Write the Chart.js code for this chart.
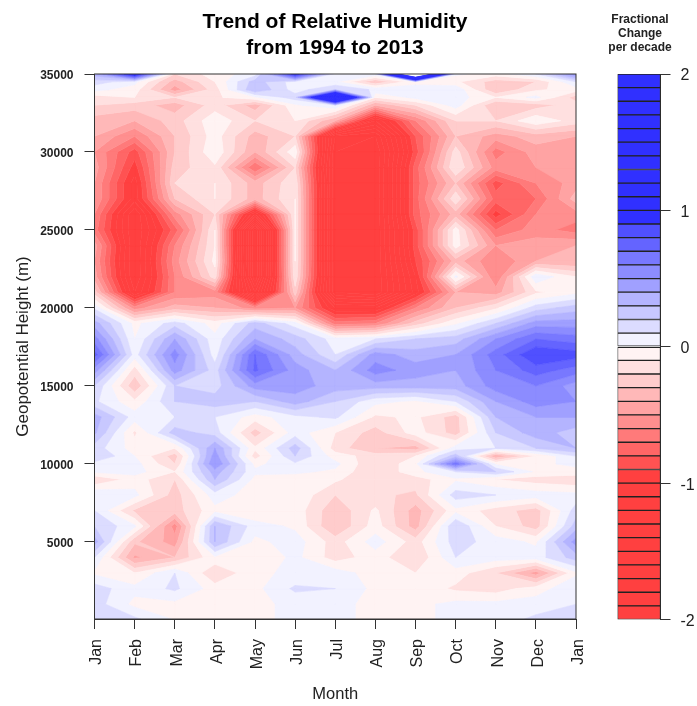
<!DOCTYPE html>
<html><head><meta charset="utf-8">
<style>html,body{margin:0;padding:0;background:#fff;width:697px;height:706px;overflow:hidden}
canvas{position:absolute;top:0}</style>
<script src="https://cdn.jsdelivr.net/npm/chart.js@4/dist/chart.umd.min.js"></script>
</head><body>
<canvas id="main" width="670" height="706" style="left:0"></canvas>
<canvas id="bar" width="114" height="706" style="left:583px"></canvas>
<script>
const months=['Jan','Feb','Mar','Apr','May','Jun','Jul','Aug','Sep','Oct','Nov','Dec','Jan'];
const monthPos=[0,1,2,3,4,5,6,7,8,9,10,11,12];
const yTickValues=[5000,10000,15000,20000,25000,30000,35000];
const barTickValues=[-2,-1,0,1,2];
const heights=[35000,34500,34000,33500,33000,32000,31000,30000,29000,28000,27000,26000,25000,24000,23000,22000,21000,20000,19000,18000,17000,16000,15000,14000,13000,12000,11000,10500,10000,9500,9000,8000,7000,6000,5000,4000,3000,2000,1000,50];
const h35000=[.35,1.1,-.2,-.05,.05,1.0,.05,.08,3.4,.02,-.05,.1,.5];
const h34500=[.15,.03,-.35,-.1,.25,.05,.02,-.3,-.02,-.08,-.25,-.2,.1];
const h34000=[.03,-.05,-.45,-.15,.3,.05,.2,.08,.03,.08,-.3,-.12,-.05];
const h33500=[-.15,-.1,-.2,-.12,-.02,.15,2.05,-.1,.03,.05,-.1,.03,-.25];
const h33000=[-.2,-.25,-.35,-.15,-.35,-.02,.1,-.4,-.2,.05,-.3,-.25,-.15];
const h32000=[-.35,-.4,-.25,-.03,-.2,-.1,-.4,-1.2,-.6,-.2,-.2,-.02,-.15];
const h31000=[-.4,-.6,-.3,-.05,-.35,-.2,-1.5,-1.6,-.8,-.3,-.45,-.35,-.4];
const h30000=[-.5,-.85,-.3,-.02,-.4,-.03,-1.6,-1.7,-.85,-.15,-.65,-.45,-.45];
const h29000=[-.45,-.95,-.25,-.12,-.7,-.2,-1.6,-1.7,-.75,-.1,-.55,-.5,-.5];
const h28000=[-.5,-1.05,-.2,-.1,-.35,-.12,-1.6,-1.7,-.75,-.3,-.85,-.6,-.45];
const h27000=[-.5,-1.05,-.3,-.1,-.35,-.1,-1.6,-1.7,-.75,-.12,-.75,-.7,-.35];
const h26000=[-.6,-1.3,-.55,-.2,-1.2,-.1,-1.6,-1.7,-.75,-.35,-.95,-.6,-.55];
const h25000=[-.65,-1.3,-.75,-.1,-1.9,-.1,-1.6,-1.7,-.85,-.05,-.7,-.55,-.65];
const h24000=[-.45,-1.3,-.6,-.1,-1.9,-.1,-1.6,-1.7,-.85,-.05,-.5,-.45,-.4];
const h23000=[-.5,-1.3,-.55,-.07,-1.9,-.1,-1.6,-1.7,-.9,-.35,-.6,-.4,-.4];
const h22000=[-.45,-1.3,-.6,-.15,-1.9,-.12,-1.6,-1.7,-1.0,.03,-.6,.08,-.1];
const h21000=[-.25,-1.2,-.6,-.55,-1.6,-.25,-1.6,-1.7,-1.05,-.4,-.45,-.12,-.03];
const h20000=[.08,-.55,-.35,-.4,-.55,-.5,-1.1,-1.1,-.6,-.3,-.12,.15,.25];
const h19000=[.35,-.03,.15,-.05,.25,.05,-.65,-.6,-.25,-.02,.2,.45,.45];
const h18000=[.55,0,.4,.03,.4,.25,.05,.1,.2,.25,.5,.7,.65];
const h17000=[.75,.05,.55,.05,.7,.35,.1,.45,.35,.4,.65,.9,.85];
const h16000=[.45,-.15,.45,.15,.72,.45,.3,.55,.45,.4,.6,.75,.65];
const h15000=[.2,-.28,.2,.15,.45,.45,.35,.35,.35,.35,.55,.6,.45];
const h14000=[.12,-.08,.2,.25,.2,.35,.2,.03,-.02,.1,.4,.55,.5];
const h13000=[.35,.05,.1,.1,-.05,.07,.12,-.12,-.08,-.25,.3,.4,.4];
const h12000=[.32,-.12,.25,.15,-.25,.05,-.1,-.25,-.05,-.25,.2,.35,.25];
const h11000=[.15,-.05,-.1,.4,-.08,.25,-.15,-.3,-.35,.05,.1,.2,.3];
const h10500=[.2,0,-.25,.45,-.15,.2,-.05,-.15,-.1,.25,-.4,-.1,.1];
const h10000=[.06,.04,-.2,.5,-.03,.08,.03,-.2,-.03,.65,-.02,-.02,.02];
const h9500=[.02,.04,-.1,.35,.02,.02,-.02,-.2,-.03,.1,.2,-.02,-.03];
const h9000=[-.2,-.05,-.2,.3,-.03,-.05,-.08,-.2,-.15,-.02,-.1,-.15,-.18];
const h8000=[.1,.03,-.25,.05,-.05,-.02,-.2,-.18,-.22,.15,.1,.05,.03];
const h7000=[.1,-.22,-.25,-.03,-.1,-.04,-.28,-.08,-.35,-.03,-.15,-.25,.15];
const h6000=[.2,.02,-.55,.3,.05,-.02,-.3,-.05,-.35,.2,-.1,-.25,.25];
const h5000=[.35,-.28,-.45,.3,-.03,.05,-.15,.05,-.15,.15,.05,-.02,.45];
const h4000=[.1,-.42,-.3,-.02,-.1,.03,-.15,-.05,-.2,.1,.05,.05,.25];
const h3000=[-.02,-.1,.1,-.2,-.02,.02,.05,-.05,-.1,-.05,-.2,-.45,-.02];
const h2000=[.15,.03,.12,-.05,-.03,.12,.1,-.03,-.03,-.12,-.15,-.05,.08];
const h1000=[.15,-.03,-.03,-.03,-.03,.03,.03,-.03,-.03,.03,.03,.05,.1];
const h50=[.15,.12,-.01,-.08,-.03,.03,.03,-.03,-.03,.03,.05,.12,.2];
const grid=[h35000,h34500,h34000,h33500,h33000,h32000,h31000,h30000,h29000,h28000,h27000,h26000,h25000,h24000,h23000,h22000,h21000,h20000,h19000,h18000,h17000,h16000,h15000,h14000,h13000,h12000,h11000,h10500,h10000,h9500,h9000,h8000,h7000,h6000,h5000,h4000,h3000,h2000,h1000,h50];
const levels=[-2,-1.9,-1.8,-1.7,-1.6,-1.5,-1.4,-1.3,-1.2,-1.1,-1,-.9,-.8,-.7,-.6,-.5,-.4,-.3,-.2,-.1,0,.1,.2,.3,.4,.5,.6,.7,.8,.9,1,1.1,1.2,1.3,1.4,1.5,1.6,1.7,1.8,1.9,2];
const bandColors=['#ff4040','#ff4040','#ff4040','#ff4040','#ff4040','#ff4040','#ff4040','#ff4040','#ff4040','#ff4040','#ff4040','#ff5252','#ff6666','#ff7a7a','#ff8f8f','#ffa3a3','#ffb8b8','#ffcccc','#ffe0e0','#fff3f3','#f2f2ff','#dcdcff','#c8c8ff','#b4b4ff','#a0a0ff','#8c8cff','#7878ff','#6464ff','#5050ff','#3030ff','#3030ff','#3030ff','#3030ff','#3030ff','#3030ff','#3030ff','#3030ff','#3030ff','#3030ff','#3030ff'];

function clip(poly,level,keepAbove){
  const out=[];
  for(let i=0;i<poly.length;i++){
    const a=poly[i],b=poly[(i+1)%poly.length];
    const ina=keepAbove?a[2]>=level:a[2]<=level, inb=keepAbove?b[2]>=level:b[2]<=level;
    if(ina)out.push(a);
    if(ina!==inb){const t=(level-a[2])/(b[2]-a[2]);out.push([a[0]+t*(b[0]-a[0]),a[1]+t*(b[1]-a[1]),level]);}
  }
  return out;
}
const contourFill={id:'contourFill',beforeDatasetsDraw(chart){
  const {ctx,chartArea:ca,scales:{x,y}}=chart;
  ctx.save();ctx.beginPath();ctx.rect(ca.left,ca.top,ca.width,ca.height);ctx.clip();
  ctx.lineWidth=.6;ctx.lineJoin='round';
  const px=monthPos.map(v=>x.getPixelForValue(v)),py=heights.map(v=>y.getPixelForValue(v));
  for(let b=0;b<bandColors.length;b++){
    ctx.fillStyle=ctx.strokeStyle=bandColors[b];
    ctx.beginPath();
    for(let r=0;r<heights.length-1;r++)for(let c=0;c<monthPos.length-1;c++){
      let p=[[px[c],py[r],grid[r][c]],[px[c+1],py[r],grid[r][c+1]],[px[c+1],py[r+1],grid[r+1][c+1]],[px[c],py[r+1],grid[r+1][c]]];
      p=clip(p,levels[b],true); if(p.length<3)continue;
      p=clip(p,levels[b+1],false); if(p.length<3)continue;
      ctx.moveTo(p[0][0],p[0][1]);
      for(let k=1;k<p.length;k++)ctx.lineTo(p[k][0],p[k][1]);
      ctx.closePath();
    }
    ctx.fill();ctx.stroke();
  }
  ctx.restore();
},afterDatasetsDraw(chart){
  const {ctx,chartArea:ca}=chart;
  ctx.save();ctx.strokeStyle='#333';ctx.lineWidth=1;
  ctx.strokeRect(ca.left,ca.top,ca.width,ca.height);
  ctx.restore();
}};
const sans='"Liberation Sans", Arial, sans-serif';
const ink='#222';
const points=[];
heights.forEach((h,r)=>monthPos.forEach((m,c)=>points.push({x:m,y:h,v:grid[r][c]})));
new Chart(document.getElementById('main'),{
  type:'scatter',
  data:{datasets:[{label:'Trend',data:points,pointRadius:0,pointHoverRadius:0,showLine:false}]},
  plugins:[contourFill],
  options:{responsive:false,animation:false,events:[],
    plugins:{legend:{display:false},tooltip:{enabled:false},
      title:{display:true,text:['Trend of Relative Humidity','from 1994 to 2013'],color:'#000',
        font:{family:sans,size:21,weight:'bold',lineHeight:1.2},padding:{top:10,bottom:13.6}}},
    scales:{
      x:{type:'linear',min:0,max:12,
        afterBuildTicks(s){s.ticks=monthPos.map(v=>({value:v}));},
        afterFit(s){s.height=87;},
        grid:{display:true,drawOnChartArea:false,drawTicks:true,tickLength:10,tickColor:'#333',tickWidth:1},
        border:{display:true,color:'#333'},
        ticks:{autoSkip:false,minRotation:90,maxRotation:90,padding:10,color:ink,font:{family:sans,size:16,lineHeight:.15},callback:v=>['',months[v]]},
        title:{display:true,text:'Month',color:ink,font:{family:sans,size:16.5},padding:{top:0,bottom:2}}},
      y:{type:'linear',min:50,max:35000,
        afterBuildTicks(s){s.ticks=yTickValues.map(v=>({value:v}));},
        afterFit(s){s.width=94.5;},
        grid:{display:true,drawOnChartArea:false,drawTicks:true,tickLength:10,tickColor:'#333',tickWidth:1},
        border:{display:true,color:'#333'},
        ticks:{padding:11,color:ink,font:{family:sans,size:12,weight:'bold',lineHeight:.25},callback:v=>['',String(v)]},
        title:{display:true,text:'Geopotential Height (m)',color:ink,font:{family:sans,size:17},padding:{top:13,bottom:0}}},
      spacerRight:{axis:'y',type:'linear',position:'right',min:0,max:1,
        afterFit(s){s.width=94;},grid:{display:false},border:{display:false},ticks:{display:false}}
    }}
});
new Chart(document.getElementById('bar'),{
  type:'bar',
  data:{labels:['scale'],datasets:bandColors.map((col,i)=>({label:String(levels[i]),data:[[levels[i],levels[i+1]]],backgroundColor:col,borderColor:'#222',borderWidth:1,borderSkipped:false,barPercentage:1,categoryPercentage:1,grouped:false}))},
  options:{responsive:false,animation:false,events:[],
    layout:{padding:{left:0,right:0,top:0,bottom:86.5}},
    plugins:{legend:{display:false},tooltip:{enabled:false},
      title:{display:true,text:['Fractional','Change','per decade'],color:ink,
        font:{family:sans,size:12,weight:'bold',lineHeight:1.2},padding:{top:12,bottom:18.8}}},
    scales:{
      x:{display:false},
      y:{type:'linear',position:'right',min:-2,max:2,
        afterBuildTicks(s){s.ticks=barTickValues.map(v=>({value:v}));},
        afterFit(s){s.width=36.5;},
        grid:{display:true,drawOnChartArea:false,drawTicks:true,tickLength:10,tickColor:'#333'},
        border:{display:true,color:'#333'},
        ticks:{padding:10,color:ink,font:{family:sans,size:16,lineHeight:.25},callback:v=>['',String(v)]}},
      spacerLeft:{axis:'y',type:'linear',position:'left',min:0,max:1,
        afterFit(s){s.width=34.5;},grid:{display:false},border:{display:false},ticks:{display:false}}
    }}
});
</script>
</body></html>
